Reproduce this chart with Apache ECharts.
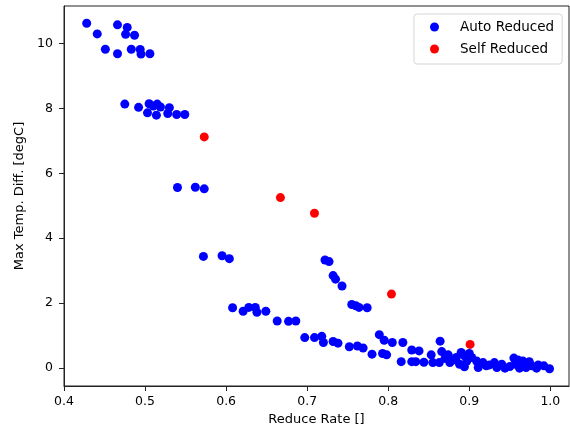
<!DOCTYPE html>
<html>
<head>
<meta charset="utf-8">
<script src="https://cdn.jsdelivr.net/npm/echarts@6/dist/echarts.min.js"></script>
<style>
    html, body { margin: 0; padding: 0; background: #fff; }
    #chart { width: 570px; height: 432px; }
</style>
</head>
<body>
<div id="chart"></div>
<script>
// auto reduced points (reduce rate / max temp diff)
var autoRate = [0.428, 0.441, 0.451, 0.466, 0.466, 0.478, 0.476, 0.487, 0.483, 0.494, 0.495, 0.506,
    0.475, 0.492, 0.505, 0.515, 0.503, 0.514, 0.519, 0.530, 0.528, 0.539, 0.549, 0.510,
    0.540, 0.562, 0.573, 0.572, 0.595, 0.604,
    0.722, 0.727, 0.732, 0.735, 0.743, 0.755, 0.760, 0.764, 0.774,
    0.608, 0.621, 0.628, 0.636, 0.638, 0.649, 0.663, 0.677, 0.686,
    0.697, 0.709, 0.718, 0.720, 0.732, 0.738, 0.752, 0.762, 0.769,
    0.780, 0.793, 0.798, 0.789, 0.795, 0.805, 0.818, 0.829, 0.838,
    0.816, 0.829, 0.834, 0.844, 0.853, 0.855, 0.864, 0.863, 0.866, 0.874, 0.876,
    0.884, 0.890, 0.894, 0.897, 0.888, 0.894, 0.903, 0.911, 0.909, 0.917, 0.921,
    0.931, 0.934, 0.940, 0.944, 0.955, 0.957, 0.962, 0.966, 0.974, 0.977, 0.983, 0.992, 0.999,
    0.880, 0.900, 0.870, 0.950, 0.960, 0.985, 0.970, 0.925];
var autoDiff = [10.62, 10.29, 9.82, 10.57, 9.68, 10.49, 10.28, 10.25, 9.82, 9.81, 9.67, 9.68,
    8.13, 8.03, 8.14, 8.13, 7.86, 7.79, 8.04, 8.02, 7.84, 7.81, 7.81, 8.07,
    5.56, 5.57, 5.52, 3.44, 3.46, 3.37,
    3.33, 3.28, 2.85, 2.74, 2.53, 1.96, 1.92, 1.87, 1.86,
    1.86, 1.75, 1.87, 1.87, 1.72, 1.75, 1.45, 1.44, 1.45,
    0.94, 0.94, 0.98, 0.79, 0.82, 0.77, 0.66, 0.68, 0.62,
    0.43, 0.45, 0.41, 1.03, 0.86, 0.79, 0.79, 0.56, 0.53,
    0.20, 0.20, 0.20, 0.18, 0.41, 0.17, 0.83, 0.17, 0.51, 0.41, 0.17,
    0.33, 0.48, 0.38, 0.22, 0.12, 0.04, 0.33, 0.02, 0.22, 0.17, 0.07,
    0.17, 0.02, 0.12, 0.00, 0.31, 0.12, 0.00, 0.22, 0.20, 0.07, 0.00, 0.07, -0.02,
    0.25, 0.45, 0.30, 0.05, 0.25, 0.10, 0.02, 0.10];

// self reduced points
var selfRate = [0.573, 0.667, 0.709, 0.804, 0.901];
var selfDiff = [7.12, 5.25, 4.77, 2.28, 0.73];

var xTicks = [0.4, 0.5, 0.6, 0.7, 0.8, 0.9, 1.0];
var yTicks = [0, 2, 4, 6, 8, 10];

function pairs(xs, ys) {
    var out = [];
    for (var i = 0; i < xs.length; i++) {
        out.push([xs[i], ys[i]]);
    }
    return out;
}

var font = 'DejaVu Sans';
var chart = echarts.init(document.getElementById('chart'), null, {renderer: 'canvas'});

var axisCommon = {
    axisLine: {show: true, onZero: false, lineStyle: {color: '#222', width: 1}},
    axisTick: {show: true, inside: false, length: 5, lineStyle: {color: '#222'}},
    splitLine: {show: false}
};

var option = {
    animation: false,
    backgroundColor: '#fff',
    grid: {
        left: 64, top: 6, right: 1, bottom: 46,
        show: true, borderColor: '#222', borderWidth: 1, backgroundColor: 'transparent'
    },
    legend: {
        orient: 'vertical',
        left: 414, top: 14,
        padding: [6, 8, 8, 16],
        itemGap: 8,
        itemWidth: 9, itemHeight: 9,
        icon: 'circle',
        borderColor: '#d6d6d6', borderWidth: 1, borderRadius: 3,
        backgroundColor: '#fff',
        textStyle: {fontFamily: font, fontSize: 13.5, color: '#000', padding: [0, 0, 0, 16]},
        data: ['Auto Reduced', 'Self Reduced']
    },
    xAxis: echarts.util.merge({
        type: 'value',
        min: 0.4, max: 1.023,
        name: 'Reduce Rate []',
        nameLocation: 'middle',
        nameGap: 27,
        nameTextStyle: {fontFamily: font, fontSize: 13, color: '#000'},
        axisTick: {customValues: xTicks},
        axisLabel: {
            customValues: xTicks,
            fontFamily: font, fontSize: 12.5, color: '#000', margin: 9,
            formatter: function (v) { return v.toFixed(1); }
        }
    }, axisCommon),
    yAxis: echarts.util.merge({
        type: 'value',
        min: -0.55, max: 11.15,
        name: 'Max Temp. Diff. [degC]',
        nameLocation: 'middle',
        nameGap: 36,
        nameTextStyle: {fontFamily: font, fontSize: 13, color: '#000'},
        axisTick: {customValues: yTicks},
        axisLabel: {
            customValues: yTicks,
            fontFamily: font, fontSize: 12.5, color: '#000', margin: 11,
            formatter: function (v) { return String(Math.round(v)); }
        }
    }, axisCommon),
    series: [
        {
            name: 'Auto Reduced',
            type: 'scatter',
            symbolSize: 9,
            itemStyle: {color: '#0000ff', opacity: 1},
            data: pairs(autoRate, autoDiff)
        },
        {
            name: 'Self Reduced',
            type: 'scatter',
            symbolSize: 9,
            itemStyle: {color: '#ff0000', opacity: 1},
            data: pairs(selfRate, selfDiff)
        }
    ]
};
chart.setOption(option);
</script>
</body>
</html>
